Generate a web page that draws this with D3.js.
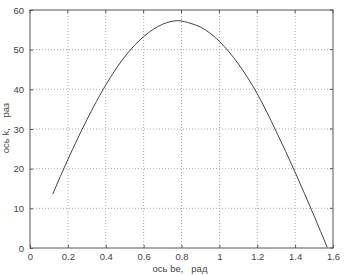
<!DOCTYPE html>
<html><head><meta charset="utf-8">
<script src="https://cdn.jsdelivr.net/npm/d3@7"></script>
<style>body{margin:0;background:#fff}svg{display:block}text{font-family:"Liberation Sans",Arial,sans-serif}</style>
</head><body>
<script>
const xVals = [0.12,0.2,0.3,0.4,0.5,0.6,0.7,0.78,0.85,0.9,1.0,1.1,1.2,1.3,1.4,1.5,1.57];
const yVals = [13.6,22.3,32.3,41.1,48.2,53.3,56.4,57.3,56.6,55.7,52.1,46.4,38.9,29.4,19.1,8.1,0.1];
const xTicks = [0,0.2,0.4,0.6,0.8,1,1.2,1.4,1.6];
const yTicks = [0,10,20,30,40,50,60];
const xLabel = "ось be,   рад";
const yLabel = "ось k,    раз";

const W=348,H=275, L=30,T=10,R=333,B=248;
const svg=d3.select("body").append("svg").attr("width",W).attr("height",H);
const x=d3.scaleLinear().domain([0,1.6]).range([L,R]);
const y=d3.scaleLinear().domain([0,60]).range([B,T]);

const g=svg.append("g");
g.selectAll(".gx").data(xTicks.slice(1,-1)).join("line")
 .attr("x1",d=>x(d)).attr("x2",d=>x(d)).attr("y1",T).attr("y2",B)
 .attr("stroke","#aaa").attr("stroke-dasharray","1,2").attr("stroke-width",1);
g.selectAll(".gy").data(yTicks.slice(1,-1)).join("line")
 .attr("y1",d=>y(d)).attr("y2",d=>y(d)).attr("x1",L).attr("x2",R)
 .attr("stroke","#aaa").attr("stroke-dasharray","1,2").attr("stroke-width",1);

const line=d3.line().x((d,i)=>x(xVals[i])).y(d=>y(d)).curve(d3.curveMonotoneX);
svg.append("path").datum(yVals).attr("d",line).attr("fill","none").attr("stroke","#444").attr("stroke-width",1);

svg.append("rect").attr("x",L).attr("y",T).attr("width",R-L).attr("height",B-T)
 .attr("fill","none").attr("stroke","#555").attr("stroke-width",1);

const ax=svg.append("g").attr("transform",`translate(0,${B})`)
 .call(d3.axisBottom(x).tickValues(xTicks).tickFormat(d3.format("")).tickSizeInner(-3).tickSizeOuter(0).tickPadding(5));
const ay=svg.append("g").attr("transform",`translate(${L},0)`)
 .call(d3.axisLeft(y).tickValues(yTicks).tickSizeInner(-3).tickSizeOuter(0).tickPadding(6));
[ax,ay].forEach(a=>{a.select(".domain").remove();a.selectAll("line").attr("stroke","#555");
 a.selectAll("text").attr("fill","#444").style("font-size","9.5px");});
svg.append("g").selectAll("line").data(xTicks).join("line").attr("x1",d=>x(d)).attr("x2",d=>x(d)).attr("y1",T).attr("y2",T+3).attr("stroke","#555");
svg.append("g").selectAll("line").data(yTicks).join("line").attr("y1",d=>y(d)).attr("y2",d=>y(d)).attr("x1",R).attr("x2",R-3).attr("stroke","#555");

svg.append("text").attr("x",180).attr("y",272).attr("text-anchor","middle").attr("fill","#444").style("font-size","9.5px").style("white-space","pre").text(xLabel);
svg.append("text").attr("transform","translate(9,128) rotate(-90)").attr("text-anchor","middle").attr("fill","#444").style("font-size","9.5px").style("white-space","pre").text(yLabel);
</script>
</body></html>
